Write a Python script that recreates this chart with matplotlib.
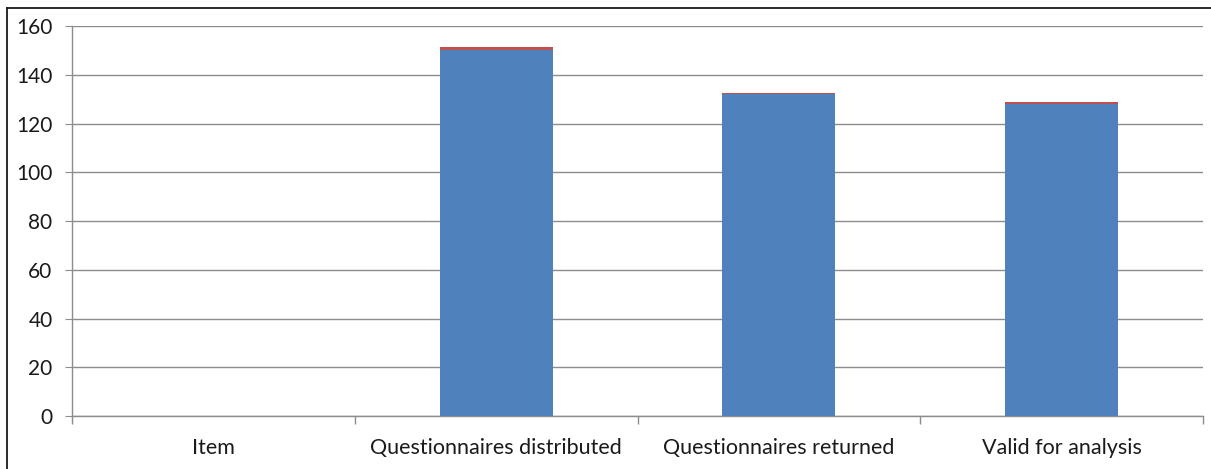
import matplotlib.pyplot as plt
import numpy as np
from matplotlib.lines import Line2D

categories = ['Item', 'Questionnaires distributed', 'Questionnaires returned', 'Valid for analysis']
counts = [0, 150, 132, 128]
extra = [0, 1.2, 0.7, 0.9]

plt.rcParams['font.family'] = ['Lato', 'DejaVu Sans']

fig = plt.figure(figsize=(12.11, 4.69), dpi=100)
ax = fig.add_axes([72 / 1211, 53 / 469, 1131 / 1211, 390 / 469])

x = np.arange(len(categories))
ax.bar(x, counts, width=0.4, color='#4F81BD', zorder=3)
ax.bar(x, extra, width=0.4, bottom=counts, color='#C0504D', zorder=3)

ax.set_xlim(-0.5, len(categories) - 0.5)
ax.set_ylim(0, 160)
ax.set_yticks(np.arange(0, 161, 20))
ax.yaxis.grid(True, color='#8c8c8c', linewidth=1.0, zorder=0)

ax.set_xticks(x)
ax.set_xticklabels(categories)
ax.set_xticks(np.arange(-0.5, len(categories)), minor=True)
ax.tick_params(axis='x', which='major', length=0, pad=16, labelsize=15.5, colors='#1a1a1a')
ax.tick_params(axis='x', which='minor', length=6, color='#8c8c8c', width=1.0)
ax.tick_params(axis='y', length=5, pad=9, labelsize=15, color='#8c8c8c', labelcolor='#1a1a1a')

for s in ['top', 'right']:
    ax.spines[s].set_visible(False)
for s in ['left', 'bottom']:
    ax.spines[s].set_color('#8c8c8c')
    ax.spines[s].set_linewidth(1.0)

# outer chart frame (only top and left edges fall inside the figure)
fig.add_artist(Line2D([7 / 1211, 1], [1 - 8 / 469, 1 - 8 / 469], color='#1a1a1a', linewidth=1.3))
fig.add_artist(Line2D([7 / 1211, 7 / 1211], [0, 1 - 8 / 469], color='#1a1a1a', linewidth=1.3))

fig.savefig('out.png', dpi=100)
